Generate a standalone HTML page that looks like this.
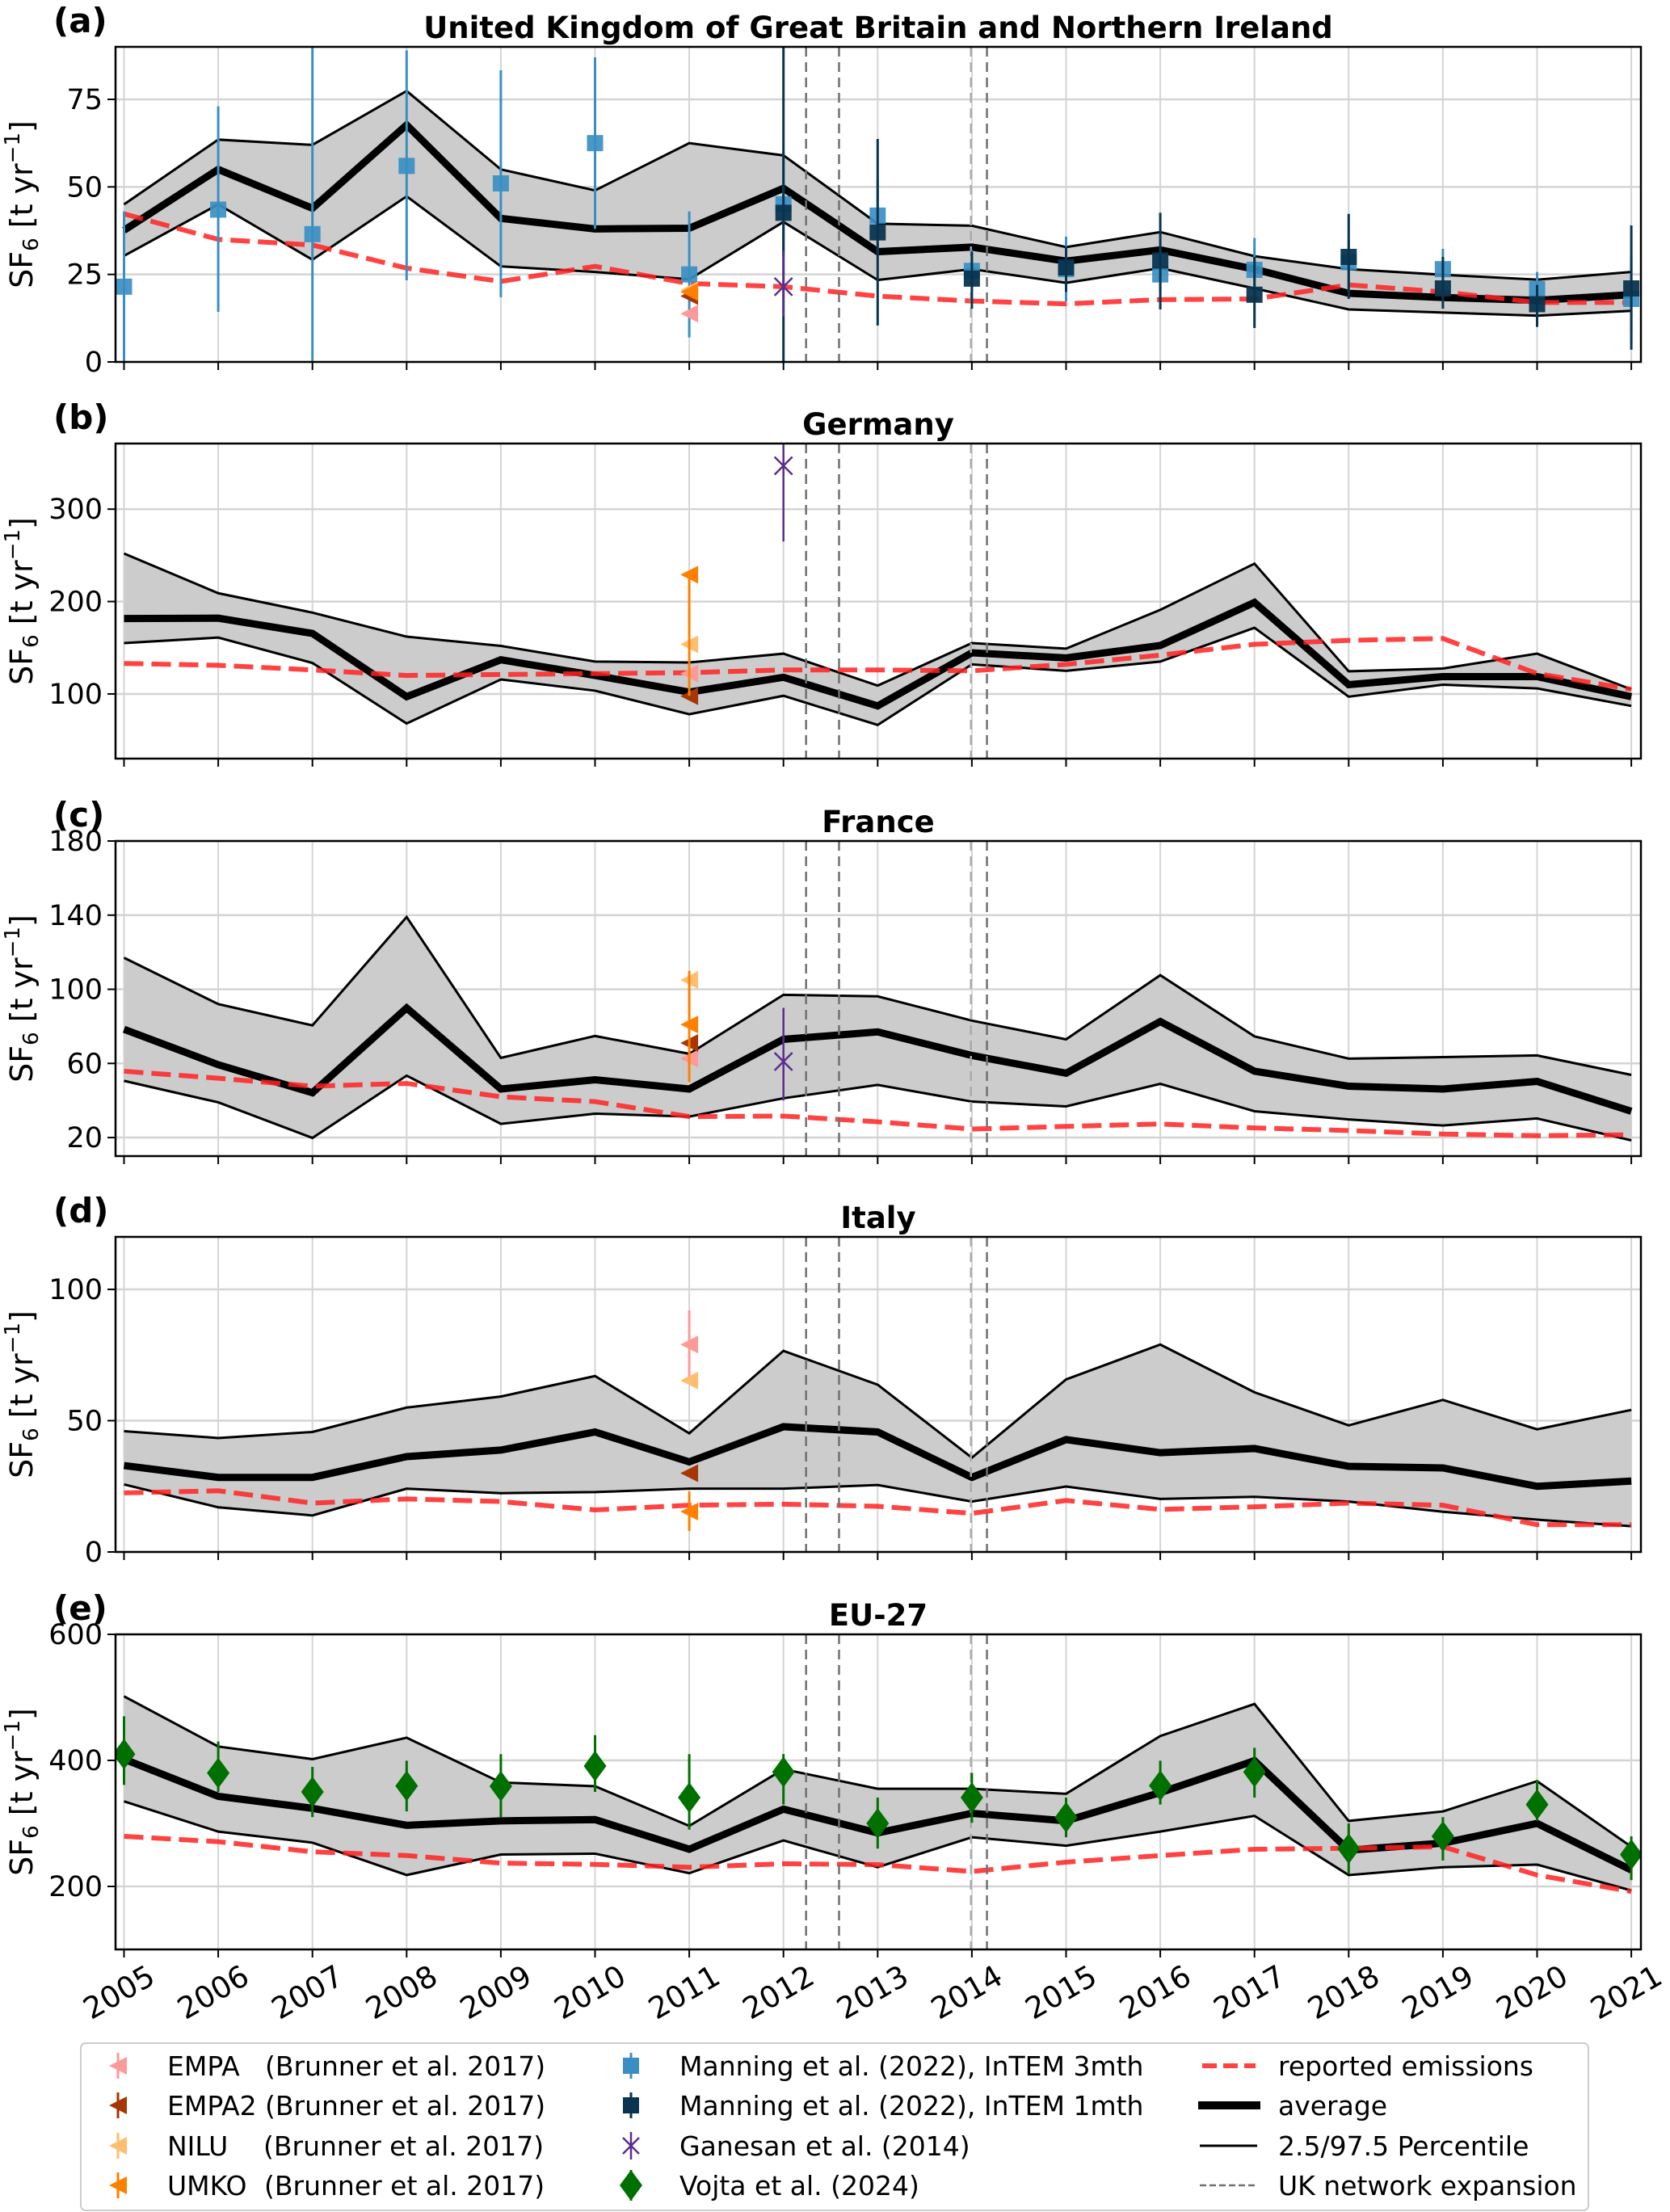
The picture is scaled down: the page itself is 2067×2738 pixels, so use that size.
<!DOCTYPE html>
<html><head><meta charset="utf-8"><style>
html,body{margin:0;padding:0;background:#fff}
svg{display:block}
text{font-family:"DejaVu Sans","Liberation Sans",sans-serif}
</style></head><body>
<svg id="fig" width="2067" height="2738" viewBox="0 0 2067 2738" xmlns="http://www.w3.org/2000/svg"></svg>
<script>
const years=[2005,2006,2007,2008,2009,2010,2011,2012,2013,2014,2015,2016,2017,2018,2019,2020,2021];
// UK
const ukAvg=[37.6,55,43.9,67.7,41,38,38.2,49.6,31.5,32.8,28.8,32,26.5,19.6,18.4,17.6,19.2];
const ukUp=[45,63.5,62,77.4,55,49,62.5,59,39.5,38.9,32.8,37.1,30.2,26.5,24.9,23.5,25.7];
const ukLo=[30.3,45,29.2,47.3,27.3,25.7,23.6,40,23.4,26.5,22.6,26.8,21,15,14.1,13.2,14.6];
const ukRep=[42.3,35,33.4,26.8,23,27.3,22.4,21.5,18.8,17.4,16.6,17.8,18,22,20,17,17];
const man3Val=[21.5,43.5,36.5,56,51,62.5,25,45,41.8,26,26.5,25,26.3,28.5,26.5,20.8,18];
const man3Lo=[0,14.3,0,23.3,18.5,38,7,30,30,20,17.3,20,20,20,18,14,8];
const man3Hi=[43,73,92,89,83.3,87,43,60,52,32,35.8,33,35.4,35,32.3,25.7,30];
const man1Years=[2012,2013,2014,2015,2016,2017,2018,2019,2020,2021];
const man1Val=[42.6,37,23.8,27,29,19.2,30,21,16.5,21];
const man1Lo=[0,10.4,15.2,20,15,9.7,18,15.2,10,3.5];
const man1Hi=[92,63.7,31.5,33,42.6,30,42.3,30,22,39];
// Germany
const deAvg=[181.6,182,165.5,97,137,120,102,118,87,144.5,139,152.4,199,110,118.8,118.8,97];
const deUp=[252,209,188,162,152,135,134,143.6,109,155,149,191,241,124.5,127.5,143.6,105];
const deLo=[155,161,133.5,68,115.7,103.5,78,98,66.4,132,125,135,171.6,97,110,106,87];
const deRep=[133,131,126,120,121,122,123,126,126,125,132,142,153.7,158,160,122,105];
// France
const frAvg=[78.4,59.3,44.2,89.9,46.2,51.2,46.2,73,77,64.3,54.7,82.6,55.8,47.7,46.2,50.3,34.2];
const frUp=[117,92,80.5,139,63,74.8,65.2,97,96.2,83.1,73,107.6,74.6,62.6,63.4,64.3,53.8];
const frLo=[50.6,39,19.8,53.4,27.4,32.9,31.3,41.2,48.4,39.4,36.8,49,34.2,29.8,26.5,30.3,18.5];
const frRep=[55.8,52,47.7,49.2,42,39.4,31.3,31.6,28.5,24.6,26,27.3,25.2,23.8,21.9,21,21.5];
// Italy
const itAvg=[32.9,28.4,28.4,36.3,38.8,45.7,34.3,47.7,45.7,28.4,42.8,37.8,39.4,32.6,32,25,27];
const itUp=[46,43.4,45.7,55,59.2,67,45.2,76.6,63.7,35.9,65.7,79,60.8,48.2,57.9,46.7,54.1];
const itLo=[25.7,17,13.9,24.1,22.4,22.8,24.1,24.1,25.5,19.2,24.9,20.2,21,19.2,15.3,12.3,9.8];
const itRep=[22.5,23.3,18.6,20.2,19.2,16,17.8,18.2,17.4,14.7,19.6,16.2,17.2,18.6,17.8,10.4,10.4];
// EU-27
const euAvg=[402,343,324,297,304,306,259,322.6,285,316,304,349,399.5,257.6,268.7,300,226];
const euUp=[501.7,422,402,436,365,359,296,386,355,355,347,438.7,489.5,304,319,367,263];
const euLo=[335,287,269.5,218,250.6,252,221,273,230.5,278,264.6,287,312,218,230.5,234.6,193.6];
const euRep=[279.5,271,255,249,237,235,230.5,236,234.6,223.7,238.5,249,259,260.5,263,218,192];
const vojVal=[410,380,350,359.5,359,391,341,381.5,300,341,309.6,360,381.5,260,279.5,330,250.6];
const vojLo=[361,350,310,319,310,350,290,330,260,301,278,330,341,220,241,304,210];
const vojHi=[470,430,389.7,399.5,410,440,410,410,341,380,341,399.5,420,300,310,369,279.5];
// Brunner et al. 2017 (2011): EMPA, EMPA2, NILU, UMKO per panel
const brunnerNames=["EMPA","EMPA2","NILU","UMKO"];
const brUK=[13.8,18.8,20.5,20];
const brDE=[122,97.5,153.7,229];
const brFR=[62.6,71,105,81];
const brIT=[79,30,65.3,15.4];
const brITlo=[65,30,65.3,8]; const brIThi=[92,30,65.3,23];
const brFRlo=[62.6,71,105,50]; const brFRhi=[62.6,71,105,110];
const brDElo=[122,97.5,153.7,98]; const brDEhi=[122,97.5,153.7,229];
// Ganesan et al. 2014 (2012)
const ganUK=[21.5,13,31.8]; const ganDE=[347,265,371]; const ganFR=[61,40,90];
// UK network expansion
const expansionYears=[2012.24,2012.59,2013.99,2014.16];
const ticksA=[0,25,50,75],ticksB=[100,200,300],ticksC=[20,60,100,140,180],ticksD=[0,50,100],ticksE=[200,400,600];

const NS="http://www.w3.org/2000/svg";
const svg=document.getElementById('fig');
function el(tag,attrs,parent){const e=document.createElementNS(NS,tag);for(const k in attrs)e.setAttribute(k,attrs[k]);(parent||svg).appendChild(e);return e;}
const L=143,R=2031,H=390;
function X(y){return 153.5+(y-2005)*116.6;}
const brColors=["#fb9a99","#a63603","#fdbf6f","#ff7f00"];

function panel(cfg){
  const top=cfg.top,bot=top+H;
  const Y=v=>bot-(v-cfg.ymin)/(cfg.ymax-cfg.ymin)*H;
  const g=el('g',{});
  
  
  const cp=el('clipPath',{id:'clip-'+cfg.name},g);
  el('rect',{x:L,y:top,width:R-L,height:H},cp);
  years.forEach(yr=>{const l=el('line',{x1:X(yr),x2:X(yr),y1:top,y2:bot,stroke:'#d4d4d4','stroke-width':2},g);
    });
  cfg.ticks.forEach(t=>{const l=el('line',{x1:L,x2:R,y1:Y(t),y2:Y(t),stroke:'#d4d4d4','stroke-width':2.5},g);
    });
  const c=el('g',{'clip-path':'url(#clip-'+cfg.name+')'},g);
  let d='M'+years.map((yr,i)=>X(yr)+','+Y(cfg.up[i])).join('L')+'L'+years.slice().reverse().map((yr,i)=>X(yr)+','+Y(cfg.lo[years.length-1-i])).join('L')+'Z';
  const band=el('path',{d:d,fill:'#cccccc',stroke:'none'},c);
  
  const pl=(arr)=>years.map((yr,i)=>X(yr)+','+Y(arr[i])).join(' ');
  const up=el('polyline',{points:pl(cfg.up),fill:'none',stroke:'#000','stroke-width':3},c);
  
  const lo=el('polyline',{points:pl(cfg.lo),fill:'none',stroke:'#000','stroke-width':3},c);
  
  const av=el('polyline',{points:pl(cfg.avg),fill:'none',stroke:'#000','stroke-width':9,'stroke-linejoin':'miter'},c);
  
  const rp=el('polyline',{points:pl(cfg.rep),fill:'none',stroke:'#ff2222','stroke-opacity':0.85,'stroke-width':6,'stroke-dasharray':'24,10'},c);
  
  expansionYears.forEach((ey,i)=>{const l=el('line',{x1:X(ey),x2:X(ey),y1:top,y2:bot,stroke:i==2?'#aaaaaa':'#707070','stroke-width':2.5,'stroke-dasharray':'12,7'},c);
    });
  function ebar(x,lo,hi,col,w){const l=el('line',{x1:x,x2:x,y1:Y(lo),y2:Y(hi),stroke:col,'stroke-width':w||3},c);
    }
  if(cfg.manning){
    years.forEach((yr,i)=>{ebar(X(yr),man3Lo[i],man3Hi[i],'#3a8fc2');
      const r=el('rect',{x:X(yr)-10,y:Y(man3Val[i])-10,width:20,height:20,fill:'#3a8fc2','fill-opacity':0.92},c);
      });
    man1Years.forEach((yr,i)=>{ebar(X(yr),man1Lo[i],man1Hi[i],'#08344f');
      const r=el('rect',{x:X(yr)-10,y:Y(man1Val[i])-10,width:20,height:20,fill:'#08344f','fill-opacity':0.95},c);
      });
  }
  if(cfg.br){
    const x=X(2011);
    cfg.br.forEach((v,i)=>{ if(cfg.brlo) ebar(x,cfg.brlo[i],cfg.brhi[i],brColors[i]);
      const p=el('polygon',{points:(x-11)+','+Y(v)+' '+(x+11)+','+(Y(v)-11)+' '+(x+11)+','+(Y(v)+11),fill:brColors[i]},c);
      });
  }
  if(cfg.gan){
    const x=X(2012),v=cfg.gan[0];
    ebar(x,cfg.gan[1],cfg.gan[2],'#5b2c91',2.5);
    const m=el('path',{d:`M${x-11},${Y(v)-11}L${x+11},${Y(v)+11}M${x-11},${Y(v)+11}L${x+11},${Y(v)-11}`,stroke:'#5b2c91','stroke-width':2.5},c);
    
  }
  if(cfg.voj){
    years.forEach((yr,i)=>{ebar(X(yr),vojLo[i],vojHi[i],'#007000');
      const x=X(yr),y=Y(vojVal[i]);
      const p=el('polygon',{points:`${x},${y-19} ${x+14},${y} ${x},${y+19} ${x-14},${y}`,fill:'#007000'},c);
      });
  }
  const fr=el('rect',{x:L,y:top,width:R-L,height:H,fill:'none',stroke:'#000','stroke-width':2.5},g);
  
  years.forEach(yr=>{const l=el('line',{x1:X(yr),x2:X(yr),y1:bot,y2:bot+10,stroke:'#000','stroke-width':2},g);
    });
  cfg.ticks.forEach(t=>{el('line',{x1:L-10,x2:L,y1:Y(t),y2:Y(t),stroke:'#000','stroke-width':2},g);
    const tx=el('text',{x:L-16,y:Y(t)+12,'text-anchor':'end','font-size':35,fill:'#000'},g);tx.textContent=t;
    });
  const yl=el('text',{transform:`translate(40,${top+H/2}) rotate(-90)`,'text-anchor':'middle','font-size':38,fill:'#000'},g);
  
  yl.innerHTML='SF<tspan font-size="26" dy="7">6</tspan><tspan dy="-7"> [t yr</tspan><tspan font-size="26" dy="-16">−1</tspan><tspan dy="16">]</tspan>';
  const lt=el('text',{x:66,y:top-18,'font-size':42,'font-weight':'bold',fill:'#000'},g);lt.textContent=cfg.letter;
  
  const tt=el('text',{x:(L+R)/2,y:top-11,'text-anchor':'middle','font-size':37,'font-weight':'bold',fill:'#000'},g);tt.textContent=cfg.title;
  
}
panel({name:'uk',letter:'(a)',title:'United Kingdom of Great Britain and Northern Ireland',top:58,ymin:0,ymax:90,ticks:ticksA,avg:ukAvg,up:ukUp,lo:ukLo,rep:ukRep,manning:true,br:brUK,gan:ganUK});
panel({name:'germany',letter:'(b)',title:'Germany',top:549,ymin:30,ymax:371,ticks:ticksB,avg:deAvg,up:deUp,lo:deLo,rep:deRep,br:brDE,brlo:brDElo,brhi:brDEhi,gan:ganDE});
panel({name:'france',letter:'(c)',title:'France',top:1041,ymin:10,ymax:180,ticks:ticksC,avg:frAvg,up:frUp,lo:frLo,rep:frRep,br:brFR,brlo:brFRlo,brhi:brFRhi,gan:ganFR});
panel({name:'italy',letter:'(d)',title:'Italy',top:1531,ymin:0,ymax:120,ticks:ticksD,avg:itAvg,up:itUp,lo:itLo,rep:itRep,br:brIT,brlo:brITlo,brhi:brIThi});
panel({name:'eu27',letter:'(e)',title:'EU-27',top:2023,ymin:100,ymax:600,ticks:ticksE,avg:euAvg,up:euUp,lo:euLo,rep:euRep,voj:true});
years.forEach(yr=>{const t=el('text',{transform:`translate(${X(yr)},2477) rotate(-30)`,'text-anchor':'middle','font-size':37,fill:'#000'});
  t.textContent=yr;
  
  });
</script>
<svg width="2067" height="2738" style="position:absolute;left:0;top:0" xmlns="http://www.w3.org/2000/svg">
<rect x="100" y="2529" width="1866" height="207" rx="6" fill="#fff" fill-opacity="0.8" stroke="#cccccc" stroke-width="2"/>
<g font-family="DejaVu Sans, Liberation Sans, sans-serif" font-size="33" fill="#000">
<g><line x1="146" x2="146" y1="2541" y2="2573" stroke="#fb9a99" stroke-width="3"/><polygon points="135,2557 157,2546 157,2568" fill="#fb9a99"/><text x="207" y="2569">EMPA</text><text x="328" y="2569">(Brunner et al. 2017)</text></g>
<g><line x1="146" x2="146" y1="2590" y2="2622" stroke="#a63603" stroke-width="3"/><polygon points="135,2606 157,2595 157,2617" fill="#a63603"/><text x="207" y="2618">EMPA2</text><text x="328" y="2618">(Brunner et al. 2017)</text></g>
<g><line x1="146" x2="146" y1="2640" y2="2672" stroke="#fdbf6f" stroke-width="3"/><polygon points="135,2656 157,2645 157,2667" fill="#fdbf6f"/><text x="207" y="2668">NILU</text><text x="326" y="2668">(Brunner et al. 2017)</text></g>
<g><line x1="146" x2="146" y1="2689" y2="2721" stroke="#ff7f00" stroke-width="3"/><polygon points="135,2705 157,2694 157,2716" fill="#ff7f00"/><text x="207" y="2717">UMKO</text><text x="327" y="2717">(Brunner et al. 2017)</text></g>
<g><line x1="781" x2="781" y1="2541" y2="2573" stroke="#3a8fc2" stroke-width="3"/><rect x="771" y="2547" width="20" height="20" fill="#3a8fc2"/><text x="841" y="2569">Manning et al. (2022), InTEM 3mth</text></g>
<g><line x1="781" x2="781" y1="2590" y2="2622" stroke="#08344f" stroke-width="3"/><rect x="771" y="2596" width="20" height="20" fill="#08344f"/><text x="841" y="2618">Manning et al. (2022), InTEM 1mth</text></g>
<g><line x1="781" x2="781" y1="2639" y2="2673" stroke="#5b2c91" stroke-width="2.5"/><path d="M771,2646L791,2666M771,2666L791,2646" stroke="#5b2c91" stroke-width="2.5"/><text x="841" y="2668">Ganesan et al. (2014)</text></g>
<g><line x1="781" x2="781" y1="2686" y2="2724" stroke="#007000" stroke-width="3"/><polygon points="781,2686 795,2705 781,2724 767,2705" fill="#007000"/><text x="841" y="2717">Vojta et al. (2024)</text></g>
<g><line x1="1488" x2="1554" y1="2557" y2="2557" stroke="#ff2222" stroke-opacity="0.85" stroke-width="6" stroke-dasharray="18,8"/><text x="1582" y="2569">reported emissions</text></g>
<g><line x1="1483" x2="1560" y1="2606" y2="2606" stroke="#000" stroke-width="10"/><text x="1582" y="2618">average</text></g>
<g><line x1="1485" x2="1556" y1="2656" y2="2656" stroke="#000" stroke-width="3"/><text x="1582" y="2668">2.5/97.5 Percentile</text></g>
<g><line x1="1485" x2="1556" y1="2705" y2="2705" stroke="#707070" stroke-width="2.5" stroke-dasharray="8,4"/><text x="1582" y="2717">UK network expansion</text></g>
</g>
</svg>
</body></html>
